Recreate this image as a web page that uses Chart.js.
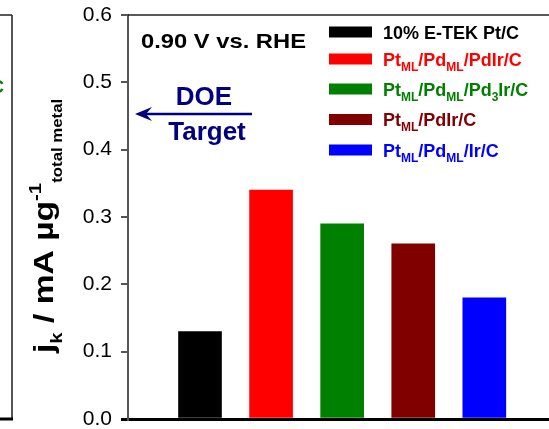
<!DOCTYPE html>
<html>
<head>
<meta charset="utf-8">
<script src="https://cdn.jsdelivr.net/npm/chart.js@4.4.1/dist/chart.umd.min.js"></script>
<style>
  html, body { margin: 0; padding: 0; background: #fff; }
</style>
</head>
<body>
<canvas id="kineticChart" width="549" height="429"></canvas>
<script>
// catalysts in bar order (_{..} = subscript, ^{..} = superscript)
const catalysts = ['10% E-TEK Pt/C', 'Pt_{ML}/Pd_{ML}/PdIr/C', 'Pt_{ML}/Pd_{ML}/Pd_{3}Ir/C', 'Pt_{ML}/PdIr/C', 'Pt_{ML}/Pd_{ML}/Ir/C'];
const barSlots = [1, 2, 3, 4, 5];
const jkValues = [0.13, 0.34, 0.29, 0.26, 0.18];
const barColors = ['#000000', '#ff0000', '#008000', '#800000', '#0000ff'];
const yTicks = [0, 0.1, 0.2, 0.3, 0.4, 0.5, 0.6];
const potentialLabel = '0.90 V vs. RHE';
const targetLabel = ['DOE', 'Target'];
const yTitle = 'j_{k} / mA µg^{-1}_{total metal}';

const FONT = '"Liberation Sans", Arial, Helvetica, sans-serif';
const NAVY = '#000080';

// split "Pt_{ML}/Pd" into plain / sub / sup pieces
function richSegments(str) {
  const segs = [];
  const re = /([_^])\{([^}]*)\}|([^_^]+)/g;
  let m;
  while ((m = re.exec(str))) {
    if (m[3]) segs.push({ text: m[3], kind: 'base' });
    else segs.push({ text: m[2], kind: m[1] === '_' ? 'sub' : 'sup' });
  }
  return segs;
}

// st.small can be a number or a list (one size per small piece)
function drawRich(ctx, str, x, y, st) {
  let k = 0;
  richSegments(str).forEach(seg => {
    let size = st.size;
    if (seg.kind !== 'base') {
      size = Array.isArray(st.small) ? st.small[k] : st.small;
      k++;
    }
    ctx.font = 'bold ' + size + 'px ' + FONT;
    const dy = seg.kind === 'sub' ? st.sub : seg.kind === 'sup' ? -st.sup : 0;
    ctx.fillText(seg.text, x, y + dy);
    x += ctx.measureText(seg.text).width;
  });
  return x;
}

// text squeezed/stretched to a given width
function fitText(ctx, text, x, y, w) {
  const mw = ctx.measureText(text).width;
  ctx.save();
  ctx.translate(x, y);
  ctx.scale(w / mw, 1);
  ctx.fillText(text, 0, 0);
  ctx.restore();
}

const annotations = {
  id: 'annotations',
  afterDraw(chart) {
    const ctx = chart.ctx;
    const area = chart.chartArea;
    ctx.save();
    ctx.textBaseline = 'alphabetic';

    // top of the frame
    ctx.strokeStyle = '#222';
    ctx.lineWidth = 1.5;
    ctx.beginPath();
    ctx.moveTo(area.left, area.top);
    ctx.lineTo(area.right, area.top);
    ctx.stroke();

    // edge of the neighbouring panel on the left
    ctx.strokeStyle = '#555';
    ctx.lineWidth = 2;
    ctx.beginPath();
    ctx.moveTo(12, area.top);
    ctx.lineTo(12, area.bottom);
    ctx.stroke();
    ctx.strokeStyle = '#222';
    ctx.lineWidth = 1.5;
    ctx.beginPath();
    ctx.moveTo(0, area.top);
    ctx.lineTo(12, area.top);
    ctx.stroke();
    ctx.strokeStyle = '#000';
    ctx.lineWidth = 3;
    ctx.beginPath();
    ctx.moveTo(0, area.bottom);
    ctx.lineTo(13, area.bottom);
    ctx.stroke();
    ctx.fillStyle = '#008000';
    ctx.font = 'bold 18px ' + FONT;
    ctx.textAlign = 'right';
    ctx.fillText('C', 4, 93);

    // potential
    ctx.textAlign = 'left';
    ctx.fillStyle = '#000';
    ctx.font = 'bold 21px ' + FONT;
    fitText(ctx, potentialLabel, 141, 47.5, 165);

    // DOE target arrow
    ctx.fillStyle = NAVY;
    ctx.strokeStyle = NAVY;
    ctx.font = 'bold 26px ' + FONT;
    ctx.textAlign = 'center';
    ctx.fillText(targetLabel[0], 204, 105);
    ctx.fillText(targetLabel[1], 207, 140);
    ctx.lineWidth = 2.5;
    ctx.beginPath();
    ctx.moveTo(146, 114);
    ctx.lineTo(252, 114);
    ctx.stroke();
    ctx.beginPath();
    ctx.moveTo(135, 114);
    ctx.lineTo(152, 107);
    ctx.lineTo(146, 114);
    ctx.lineTo(152, 121);
    ctx.closePath();
    ctx.fill();

    // legend
    const rowY = [32, 59, 89, 119.5, 150];
    ctx.textAlign = 'left';
    catalysts.forEach((name, i) => {
      ctx.fillStyle = barColors[i];
      ctx.fillRect(329, rowY[i] - 5.5, 43, 11);
      drawRich(ctx, name, 383, rowY[i] + 6.5, { size: 18, small: 12, sub: 5, sup: 7 });
    });

    // y axis title, rotated and a little stretched like the original
    ctx.fillStyle = '#000';
    ctx.translate(53, 353);
    ctx.rotate(-Math.PI / 2);
    ctx.scale(1.2, 1);
    drawRich(ctx, yTitle, 0, 0, { size: 28, small: [17, 17, 14], sub: 9, sup: 12 });

    ctx.restore();
  }
};

new Chart(document.getElementById('kineticChart'), {
  type: 'bar',
  data: {
    datasets: [{
      label: 'jk',
      data: barSlots.map((x, i) => ({ x: x, y: jkValues[i] })),
      backgroundColor: barColors,
      borderWidth: 0,
      barThickness: 43
    }]
  },
  options: {
    responsive: false,
    animation: false,
    events: [],
    layout: { padding: { top: 15, left: 0, right: 0, bottom: 0 } },
    plugins: {
      legend: { display: false },
      tooltip: { enabled: false }
    },
    scales: {
      x: {
        type: 'linear',
        bounds: 'data',
        offset: false,
        min: -0.013,
        max: 5.91,
        ticks: { display: false },
        grid: { display: false, drawTicks: false },
        border: { display: true, color: '#000', width: 3 },
        afterFit: s => { s.height = 10; }
      },
      y: {
        min: 0,
        max: 0.6,
        afterBuildTicks: s => { s.ticks = yTicks.map(v => ({ value: v })); },
        ticks: {
          color: '#000',
          padding: 9,
          font: { family: FONT, size: 21, lineHeight: 1 },
          callback: v => v.toFixed(1)
        },
        grid: {
          drawOnChartArea: false,
          drawTicks: true,
          tickLength: 7,
          color: c => (c.tick && c.tick.value === 0 ? '#000' : '#555'),
          lineWidth: c => (c.tick && c.tick.value === 0 ? 3 : 2)
        },
        border: { color: '#555', width: 2 },
        afterFit: s => {
          s.width = 128;
          s.paddingTop = 0;
          s.paddingBottom = 0;
        }
      }
    }
  },
  plugins: [annotations]
});
</script>
</body>
</html>
